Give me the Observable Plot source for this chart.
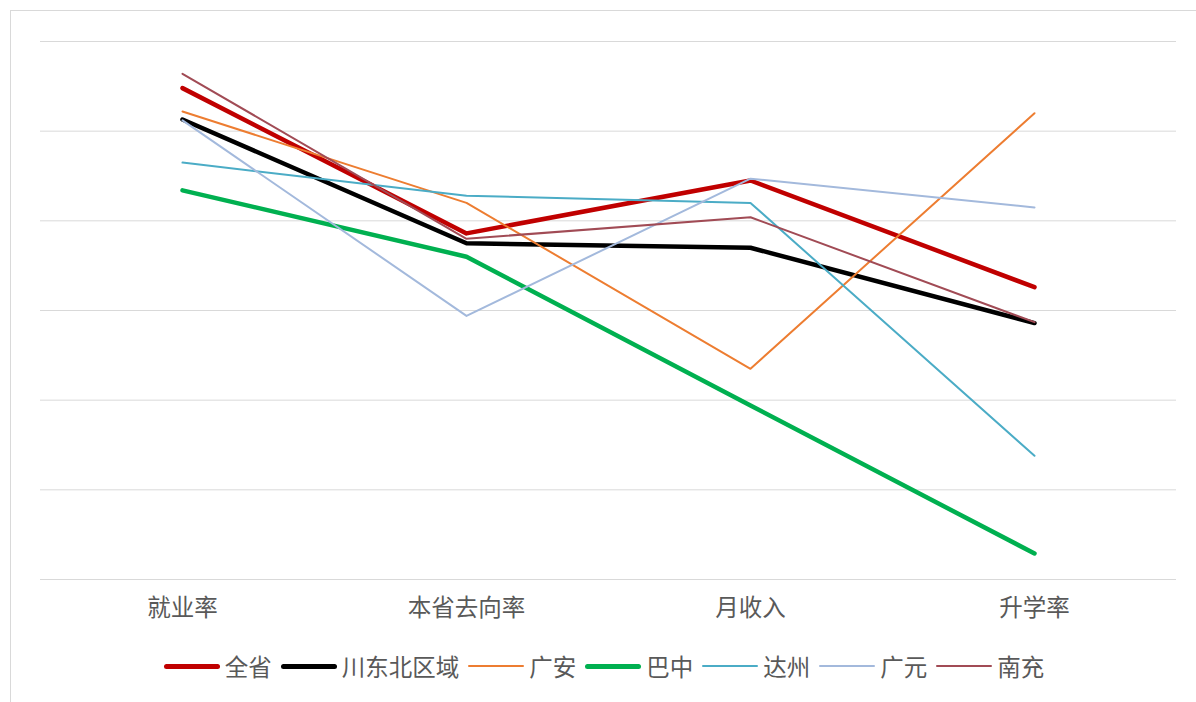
<!DOCTYPE html>
<html>
<head>
<meta charset="utf-8">
<script src="https://cdn.jsdelivr.net/npm/d3@7"></script>
<script src="https://cdn.jsdelivr.net/npm/@observablehq/plot@0.6"></script>
<style>
  html, body { margin: 0; padding: 0; background: #fff; }
  #frame { position: absolute; left: 10px; top: 10px; width: 1200px; height: 700px;
           border: 1px solid #d9d9d9; box-sizing: border-box; background: #fff; }
  #chart { position: absolute; left: 0; top: 0; }
  #legend { position: absolute; left: 0; top: 638px; width: 1186px; display: flex; justify-content: center;
            align-items: center; font-family: "Noto Sans CJK SC", sans-serif; font-size: 23.5px; color: #595959; }
  .item { display: flex; align-items: center; margin-right: 9px; }
  .item:last-child { margin-right: 0; }
  .sw { display: inline-block; width: 56px; margin-right: 5px; border-radius: 3px; }
</style>
</head>
<body>
<div id="frame">
  <div id="chart"></div>
  <div id="legend"></div>
</div>
<script>
const categories = ["就业率", "本省去向率", "月收入", "升学率"];
const seriesNames = ["全省", "川东北区域", "广安", "巴中", "达州", "广元", "南充"];
const quanSheng   = [5.48, 3.86, 4.45, 3.26];
const chuanDongBei = [5.13, 3.75, 3.70, 2.86];
const guangAn     = [5.22, 4.20, 2.35, 5.20];
const baZhong     = [4.34, 3.60, 1.94, 0.29];
const daZhou      = [4.65, 4.28, 4.20, 1.38];
const guangYuan   = [5.12, 2.94, 4.47, 4.15];
const nanChong    = [5.64, 3.80, 4.04, 2.87];
const gridTicks = [0, 1, 2, 3, 4, 5, 6];

const seriesValues = [quanSheng, chuanDongBei, guangAn, baZhong, daZhou, guangYuan, nanChong];
const colors = ["#C00000", "#000000", "#ED7D31", "#00B050", "#4BACC6", "#A3B9DC", "#A14B55"];
const widths = [4.5, 4.5, 2, 4.5, 2, 2, 2];

const rows = [];
seriesNames.forEach((s, i) => categories.forEach((c, j) => rows.push({series: s, cat: c, value: seriesValues[i][j]})));

const marks = [
  Plot.ruleY(gridTicks, {stroke: "#d9d9d9", strokeWidth: 1}),
  Plot.axisX({tickSize: 0, tickPadding: 20, fontSize: 23.5, fill: "#595959", label: null,
              fontFamily: "Noto Sans CJK SC"}),
  Plot.axisY({ticks: [], label: null, tickSize: 0})
];
seriesNames.forEach((s, i) => {
  marks.push(Plot.line(rows.filter(d => d.series === s), {
    x: "cat", y: "value", stroke: colors[i], strokeWidth: widths[i],
    strokeLinejoin: "round", strokeLinecap: "round"
  }));
});

const plot = Plot.plot({
  width: 1186, height: 640,
  marginLeft: 29, marginRight: 21, marginTop: 30, marginBottom: 72,
  x: {type: "point", domain: categories, padding: 0.5},
  y: {domain: [0, 6]},
  style: {fontFamily: "Noto Sans CJK SC", background: "#fff", color: "#595959"},
  marks
});
document.getElementById("chart").appendChild(plot);

const legend = document.getElementById("legend");
seriesNames.forEach((s, i) => {
  const item = document.createElement("div");
  item.className = "item";
  const sw = document.createElement("span");
  sw.className = "sw";
  sw.style.height = (widths[i] > 3 ? 5 : 2) + "px";
  sw.style.background = colors[i];
  const t = document.createElement("span");
  t.textContent = s;
  item.appendChild(sw); item.appendChild(t);
  legend.appendChild(item);
});
</script>
</body>
</html>
